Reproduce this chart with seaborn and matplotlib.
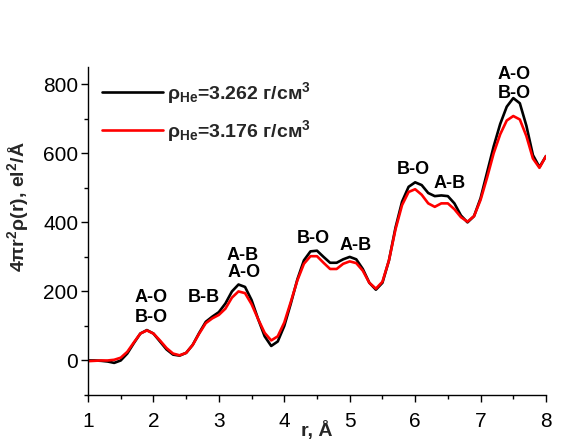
import numpy as np
import pandas as pd
import matplotlib
matplotlib.use("Agg")
import matplotlib.pyplot as plt
from matplotlib.ticker import MultipleLocator
import seaborn as sns

# ---- data ----
r_vals = [round(1.0 + 0.1 * i, 1) for i in range(71)]
g_black = [0, 0, -1, -3, -7, 0, 20, 50, 78, 88,
           78, 55, 32, 17, 14, 22, 45, 80, 112, 127,
           140, 165, 200, 220, 213, 175, 120, 70, 42, 55,
           100, 165, 235, 290, 316, 318, 300, 283, 283, 293,
           300, 293, 265, 225, 205, 225, 290, 385, 460, 503,
           516, 508, 485, 476, 478, 476, 455, 420, 400, 418,
           470, 545, 620, 685, 735, 760, 745, 680, 595, 560,
           592]
g_red = [-2, -1, 0, 0, 2, 8, 25, 52, 78, 87,
         78, 58, 36, 20, 15, 22, 45, 78, 108, 122,
         132, 150, 182, 200, 195, 163, 120, 80, 58, 70,
         110, 170, 232, 280, 302, 302, 283, 265, 265, 280,
         287, 282, 260, 225, 208, 228, 290, 380, 450, 488,
         496, 480, 455, 445, 455, 455, 438, 415, 402, 418,
         465, 530, 600, 655, 695, 708, 698, 650, 585, 558,
         592]
series_names = ["ρ$_{\\mathbf{He}}$=3.262 г/см$^{\\mathbf{3}}$",
                "ρ$_{\\mathbf{He}}$=3.176 г/см$^{\\mathbf{3}}$"]
series_colors = ["#000000", "#ff0000"]

ann_text = ["A-O", "B-O", "B-B", "A-B", "A-O", "B-O", "A-B", "B-O", "A-B", "A-O", "B-O"]
ann_x = [1.97, 1.97, 2.77, 3.37, 3.38, 4.445, 5.09, 5.97, 6.53, 7.52, 7.52]
ann_y = [170, 110, 170, 292, 242, 340, 321, 541, 500, 815, 760]

# ---- style ----
sns.set_theme(style="ticks")
plt.rcParams["font.family"] = ["Liberation Sans", "DejaVu Sans"]
plt.rcParams["mathtext.fontset"] = "custom"
plt.rcParams["mathtext.rm"] = "Liberation Sans:bold"
plt.rcParams["mathtext.bf"] = "Liberation Sans:bold"
plt.rcParams["mathtext.it"] = "Liberation Sans:bold"

df = pd.concat([
    pd.DataFrame({"r": r_vals, "g": g_black, "series": series_names[0]}),
    pd.DataFrame({"r": r_vals, "g": g_red, "series": series_names[1]}),
])

fig = plt.figure(figsize=(5.65, 4.42), dpi=100)
ax = fig.add_axes([88 / 565, 1 - 395 / 442, 458 / 565, 328 / 442])

sns.lineplot(data=df, x="r", y="g", hue="series", hue_order=series_names,
             palette=series_colors, linewidth=1.9, ax=ax, sort=False)
for ln in ax.get_lines():
    ln.set_solid_joinstyle("round")

ax.set_xlim(1, 8)
ax.set_ylim(-100, 850)
ax.xaxis.set_major_locator(MultipleLocator(1))
ax.xaxis.set_minor_locator(MultipleLocator(0.5))
ax.yaxis.set_major_locator(MultipleLocator(200))
ax.yaxis.set_minor_locator(MultipleLocator(100))
ax.tick_params(which="major", direction="out", length=5, width=1, labelsize=15,
               color="black", labelcolor="black", pad=2)
ax.tick_params(which="minor", direction="out", length=3, width=1, color="black")
ax.tick_params(axis="x", which="major", pad=7)
for s in ["top", "right"]:
    ax.spines[s].set_visible(False)
for s in ["left", "bottom"]:
    ax.spines[s].set_color("black")
    ax.spines[s].set_linewidth(1)

ax.set_xlabel("r, Å", fontsize=14, fontweight="bold", labelpad=-7)
ax.set_ylabel("4πr$^{\\mathbf{2}}$ρ(r), el$^{\\mathbf{2}}$/Å", fontsize=14,
              fontweight="bold")
ax.yaxis.set_label_coords(-0.124, 0.573)

for t, x, y in zip(ann_text, ann_x, ann_y):
    ax.text(x, y, t, ha="center", va="baseline", fontsize=13, fontweight="bold",
            color="black")

leg = ax.legend(loc="upper left", bbox_to_anchor=(0.03, 0.96), frameon=False,
                prop={"weight": "bold", "size": 14}, handlelength=3.15,
                handletextpad=0.2, labelspacing=0.62, borderpad=0, borderaxespad=0)
for line in leg.get_lines():
    line.set_linewidth(1.9)
ax.grid(False)

fig.savefig("out.png", dpi=100)
